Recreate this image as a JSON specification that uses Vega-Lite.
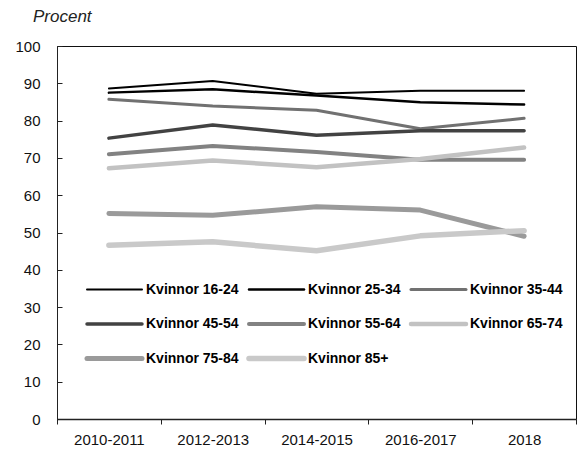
{
  "$schema": "https://vega.github.io/schema/vega-lite/v6.json",
  "width": 519,
  "height": 373,
  "autosize": {"type": "none"},
  "padding": {"left": 57, "top": 46, "right": 1, "bottom": 31},
  "background": "white",
  "title": {
    "text": "Procent",
    "anchor": "start",
    "frame": "group",
    "font": "Liberation Sans",
    "fontSize": 17,
    "fontStyle": "italic",
    "fontWeight": "normal",
    "color": "#222222",
    "baseline": "alphabetic",
    "dx": -24,
    "offset": 0
  },
  "data": {
    "values": [
      {"period": "2010-2011", "series": "Kvinnor 16-24", "value": 88.6},
      {"period": "2012-2013", "series": "Kvinnor 16-24", "value": 90.6},
      {"period": "2014-2015", "series": "Kvinnor 16-24", "value": 87.2},
      {"period": "2016-2017", "series": "Kvinnor 16-24", "value": 88.0},
      {"period": "2018", "series": "Kvinnor 16-24", "value": 88.0},
      {"period": "2010-2011", "series": "Kvinnor 25-34", "value": 87.5},
      {"period": "2012-2013", "series": "Kvinnor 25-34", "value": 88.4},
      {"period": "2014-2015", "series": "Kvinnor 25-34", "value": 86.7},
      {"period": "2016-2017", "series": "Kvinnor 25-34", "value": 84.9},
      {"period": "2018", "series": "Kvinnor 25-34", "value": 84.3},
      {"period": "2010-2011", "series": "Kvinnor 35-44", "value": 85.7},
      {"period": "2012-2013", "series": "Kvinnor 35-44", "value": 83.9},
      {"period": "2014-2015", "series": "Kvinnor 35-44", "value": 82.8},
      {"period": "2016-2017", "series": "Kvinnor 35-44", "value": 77.8},
      {"period": "2018", "series": "Kvinnor 35-44", "value": 80.6},
      {"period": "2010-2011", "series": "Kvinnor 45-54", "value": 75.3},
      {"period": "2012-2013", "series": "Kvinnor 45-54", "value": 78.8},
      {"period": "2014-2015", "series": "Kvinnor 45-54", "value": 76.1},
      {"period": "2016-2017", "series": "Kvinnor 45-54", "value": 77.3},
      {"period": "2018", "series": "Kvinnor 45-54", "value": 77.3},
      {"period": "2010-2011", "series": "Kvinnor 55-64", "value": 71.0},
      {"period": "2012-2013", "series": "Kvinnor 55-64", "value": 73.2},
      {"period": "2014-2015", "series": "Kvinnor 55-64", "value": 71.6},
      {"period": "2016-2017", "series": "Kvinnor 55-64", "value": 69.5},
      {"period": "2018", "series": "Kvinnor 55-64", "value": 69.5},
      {"period": "2010-2011", "series": "Kvinnor 65-74", "value": 67.2},
      {"period": "2012-2013", "series": "Kvinnor 65-74", "value": 69.3},
      {"period": "2014-2015", "series": "Kvinnor 65-74", "value": 67.5},
      {"period": "2016-2017", "series": "Kvinnor 65-74", "value": 69.7},
      {"period": "2018", "series": "Kvinnor 65-74", "value": 72.8},
      {"period": "2010-2011", "series": "Kvinnor 75-84", "value": 55.1},
      {"period": "2012-2013", "series": "Kvinnor 75-84", "value": 54.6},
      {"period": "2014-2015", "series": "Kvinnor 75-84", "value": 56.9},
      {"period": "2016-2017", "series": "Kvinnor 75-84", "value": 56.0},
      {"period": "2018", "series": "Kvinnor 75-84", "value": 49.0},
      {"period": "2010-2011", "series": "Kvinnor 85+", "value": 46.6},
      {"period": "2012-2013", "series": "Kvinnor 85+", "value": 47.5},
      {"period": "2014-2015", "series": "Kvinnor 85+", "value": 45.1},
      {"period": "2016-2017", "series": "Kvinnor 85+", "value": 49.1},
      {"period": "2018", "series": "Kvinnor 85+", "value": 50.5}
    ]
  },
  "mark": {"type": "line", "strokeCap": "round", "strokeJoin": "round"},
  "encoding": {
    "x": {
      "field": "period",
      "type": "ordinal",
      "sort": null,
      "scale": {"type": "band", "paddingInner": 0, "paddingOuter": 0},
      "axis": {
        "title": null,
        "labelAngle": 0,
        "labelFont": "Liberation Sans",
        "labelFontSize": 15,
        "labelColor": "#111111",
        "labelPadding": 8,
        "tickBand": "extent",
        "tickSize": 5,
        "tickColor": "#222222",
        "domainColor": "#222222",
        "domainWidth": 1.5
      }
    },
    "y": {
      "field": "value",
      "type": "quantitative",
      "scale": {"domain": [0, 100], "nice": false},
      "axis": {
        "title": null,
        "values": [0, 10, 20, 30, 40, 50, 60, 70, 80, 90, 100],
        "grid": false,
        "labelFont": "Liberation Sans",
        "labelFontSize": 15,
        "labelColor": "#111111",
        "labelPadding": 22,
        "tickSize": -5,
        "tickColor": "#222222",
        "domainColor": "#222222"
      }
    },
    "color": {
      "field": "series",
      "type": "nominal",
      "scale": {
        "domain": ["Kvinnor 16-24", "Kvinnor 25-34", "Kvinnor 35-44", "Kvinnor 45-54", "Kvinnor 55-64", "Kvinnor 65-74", "Kvinnor 75-84", "Kvinnor 85+"],
        "range": ["#000000", "#000000", "#717171", "#424242", "#828282", "#c2c2c2", "#9a9a9a", "#c9c9c9"]
      },
      "legend": {
        "title": null,
        "orient": "none",
        "legendX": 27,
        "legendY": 235,
        "columns": 3,
        "direction": "horizontal",
        "clipHeight": 17,
        "symbolType": "stroke",
        "symbolSize": 3025,
        "labelFont": "Liberation Sans",
        "labelFontSize": 14,
        "labelFontWeight": "bold",
        "labelColor": "#000000",
        "labelOffset": 1,
        "rowPadding": 17.5,
        "columnPadding": 7,
        "labelLimit": 200,
        "encode": {
          "symbols": {
            "update": {
              "strokeWidth": {"signal": "datum.value === 'Kvinnor 16-24' ? 2 : 5.5"},
              "strokeCap": {"value": "round"}
            }
          }
        }
      }
    },
    "strokeWidth": {
      "field": "series",
      "type": "nominal",
      "legend": null,
      "scale": {
        "domain": ["Kvinnor 16-24", "Kvinnor 25-34", "Kvinnor 35-44", "Kvinnor 45-54", "Kvinnor 55-64", "Kvinnor 65-74", "Kvinnor 75-84", "Kvinnor 85+"],
        "range": [2, 5.5, 5.5, 5.5, 5.5, 5.5, 5.5, 5.5]
      }
    }
  },
  "config": {
    "view": {"stroke": "#111111", "strokeWidth": 1}
  }
}
